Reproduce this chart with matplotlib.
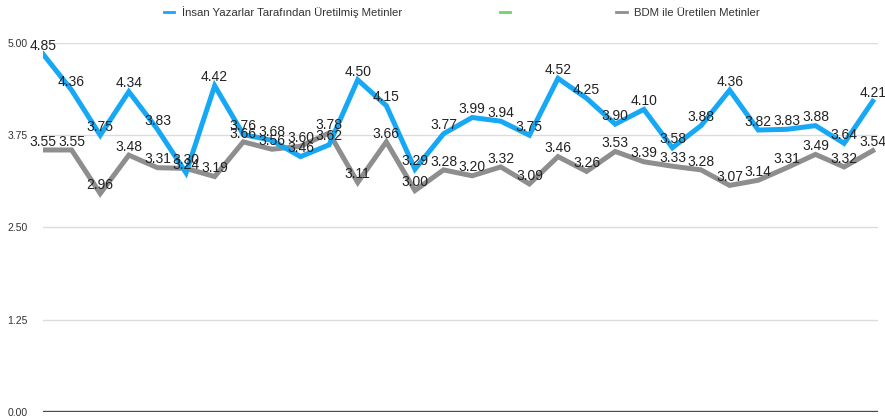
import numpy as np
import matplotlib.pyplot as plt
from matplotlib.lines import Line2D

plt.rcParams['font.family'] = ['Liberation Sans', 'DejaVu Sans']

insan = [4.85, 4.36, 3.75, 4.34, 3.83, 3.24, 4.42, 3.76, 3.68, 3.46,
         3.62, 4.50, 4.15, 3.29, 3.77, 3.99, 3.94, 3.75, 4.52, 4.25,
         3.90, 4.10, 3.58, 3.88, 4.36, 3.82, 3.83, 3.88, 3.64, 4.21]
bdm = [3.55, 3.55, 2.96, 3.48, 3.31, 3.30, 3.19, 3.66, 3.56, 3.60,
       3.78, 3.11, 3.66, 3.00, 3.28, 3.20, 3.32, 3.09, 3.46, 3.26,
       3.53, 3.39, 3.33, 3.28, 3.07, 3.14, 3.31, 3.49, 3.32, 3.54]
yticks = [0.0, 1.25, 2.50, 3.75, 5.00]
names = ['İnsan Yazarlar Tarafından Üretilmiş Metinler', '', 'BDM ile Üretilen Metinler']

BLUE = '#17a8f5'
GREEN = '#6fd36f'
GRAY = '#8e8e8e'

x = np.arange(len(insan))

fig = plt.figure(figsize=(8.85, 4.17), dpi=100)
ax = fig.add_axes([0.0486, 0.012, 0.943, 0.885])

for y in yticks[1:]:
    ax.axhline(y, color='#dcdcdc', lw=1.0, zorder=0)
ax.axhline(0, color='#4a4a4a', lw=2.4, zorder=1)

ax.plot(x, bdm, color=GRAY, lw=3.6, solid_joinstyle='miter', zorder=2)
ax.plot(x, insan, color=BLUE, lw=3.6, solid_joinstyle='miter', zorder=3)

# value labels sit just above each vertex
for xi, v in zip(x, bdm):
    ax.annotate(f'{v:.2f}', (xi, v), xytext=(0, 6), textcoords='offset points',
                ha='center', va='center', fontsize=10, color='#222222', zorder=4)
for xi, v in zip(x, insan):
    ax.annotate(f'{v:.2f}', (xi, v), xytext=(0, 6), textcoords='offset points',
                ha='center', va='center', fontsize=10, color='#222222', zorder=5)

ax.set_xlim(0, 29.17)
ax.set_ylim(0, 5)
ax.set_yticks(yticks)
ax.set_yticklabels([f'{t:.2f}' for t in yticks], fontsize=7.5, color='#333333')
ax.tick_params(axis='y', length=0, pad=11)
ax.set_xticks([])
for s in ax.spines.values():
    s.set_visible(False)

handles = [Line2D([], [], color=c, lw=2) for c in (BLUE, GREEN, GRAY)]
fig.legend(handles, names, loc='center', bbox_to_anchor=(0.522, 0.97), ncol=3,
           frameon=False, fontsize=8.2, handlelength=0.9, handletextpad=0.7,
           columnspacing=8.6, labelcolor='#333333')

fig.savefig('out.png', dpi=100)
